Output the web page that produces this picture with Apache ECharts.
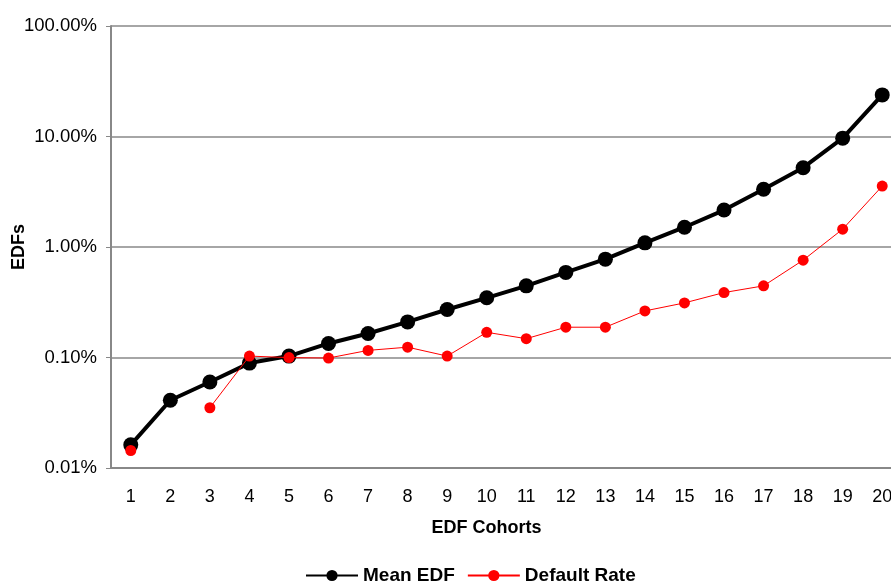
<!DOCTYPE html>
<html>
<head>
<meta charset="utf-8">
<script src="https://cdn.jsdelivr.net/npm/echarts@6/dist/echarts.min.js"></script>
<style>
html,body{margin:0;padding:0;background:#fff;}
#chart{width:891px;height:583px;}
</style>
</head>
<body>
<div id="chart"></div>
<script>
var categories = ['1','2','3','4','5','6','7','8','9','10','11','12','13','14','15','16','17','18','19','20'];
var meanEDF = [0.000162,0.00041,0.00060,0.00089,0.00103,0.00134,0.00165,0.0021,0.00272,0.00347,0.00445,0.00589,0.00776,0.0109,0.0151,0.0216,0.0333,0.0522,0.0966,0.238];
var defaultRate = [0.000144,null,0.000351,0.00103,0.000998,0.000989,0.00116,0.00124,0.00103,0.00169,0.00148,0.00188,0.00188,0.00264,0.00312,0.00387,0.00445,0.0076,0.0145,0.0356];
var yTicks = [0.0001,0.001,0.01,0.1,1];

var chart = echarts.init(document.getElementById('chart'));
chart.setOption({
  animation: false,
  backgroundColor: '#fff',
  grid: { left: 111, right: -11, top: 26, bottom: 115, containLabel: false, outerBoundsMode: 'none' },
  legend: {
    left: 300, top: 561,
    itemWidth: 52, itemHeight: 14, itemGap: 12,
    textStyle: { fontFamily: 'Liberation Sans, Arial', fontSize: 19, fontWeight: 'bold', color: '#000' },
    data: ['Mean EDF', 'Default Rate']
  },
  xAxis: {
    type: 'category',
    data: categories,
    boundaryGap: true,
    name: 'EDF Cohorts',
    nameLocation: 'middle',
    nameGap: 51,
    nameMoveOverlap: false,
    nameTextStyle: { fontFamily: 'Liberation Sans, Arial', fontSize: 18, fontWeight: 'bold', color: '#000', padding: [0, 40, 0, 0] },
    axisLine: { lineStyle: { color: '#888', width: 2 } },
    axisTick: { show: false },
    axisLabel: { fontFamily: 'Liberation Sans, Arial', fontSize: 18, color: '#000', margin: 20, interval: 0 },
    splitLine: { show: false }
  },
  yAxis: {
    type: 'log',
    logBase: 10,
    min: 0.0001,
    max: 1,
    name: 'EDFs',
    nameLocation: 'middle',
    nameGap: 83,
    nameMoveOverlap: false,
    nameTextStyle: { fontFamily: 'Liberation Sans, Arial', fontSize: 18, fontWeight: 'bold', color: '#000' },
    axisLine: { show: true, lineStyle: { color: '#888', width: 2 } },
    axisTick: { show: true, length: 5, lineStyle: { color: '#888', width: 1 } },
    axisLabel: {
      fontFamily: 'Liberation Sans, Arial', fontSize: 18.5, color: '#000', margin: 14,
      formatter: function (v) {
        var t = yTicks.find(function (k) { return Math.abs(k - v) / k < 1e-6; });
        return (t * 100).toFixed(2) + '%';
      }
    },
    splitLine: { show: true, lineStyle: { color: '#888', width: 1.5 } }
  },
  series: [
    {
      name: 'Mean EDF',
      type: 'line',
      data: meanEDF,
      symbol: 'circle',
      symbolSize: 15,
      lineStyle: { color: '#000', width: 4 },
      itemStyle: { color: '#000' },
      z: 2
    },
    {
      name: 'Default Rate',
      type: 'line',
      data: defaultRate,
      connectNulls: false,
      symbol: 'circle',
      symbolSize: 11,
      lineStyle: { color: '#ff0000', width: 1 },
      itemStyle: { color: '#ff0000' },
      z: 3
    }
  ]
});
</script>
</body>
</html>
